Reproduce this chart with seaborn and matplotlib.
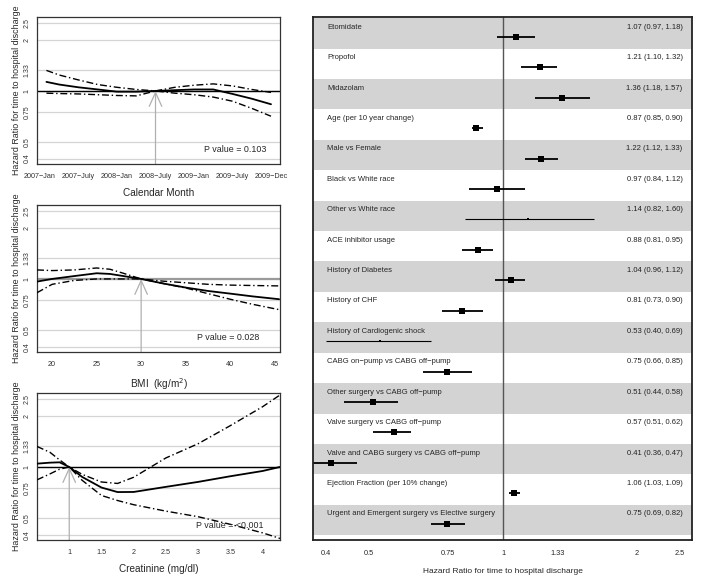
import numpy as np
import pandas as pd
import matplotlib
matplotlib.use("Agg")
import matplotlib.pyplot as plt
import matplotlib.transforms as mtransforms
import seaborn as sns

# spline curves (hazard ratio, log scale)
months = [1, 3, 6, 9, 12, 15, 18, 21, 24, 27, 30, 33, 36]
month_hr = [1.13, 1.09, 1.05, 1.02, 0.99, 0.99, 1.0, 1.01, 1.02, 1.02, 0.96, 0.90, 0.835]
month_hi = [1.32, 1.24, 1.16, 1.09, 1.05, 1.02, 1.0, 1.05, 1.08, 1.10, 1.07, 1.02, 0.98]
month_lo = [0.97, 0.965, 0.96, 0.95, 0.94, 0.935, 1.0, 0.97, 0.95, 0.92, 0.87, 0.79, 0.71]
month_ticks = [0, 6, 12, 18, 24, 30, 36]
month_labels = ["2007\u2212Jan", "2007\u2212July", "2008\u2212Jan", "2008\u2212July",
                "2009\u2212Jan", "2009\u2212July", "2009\u2212Dec"]

bmi = [18.3, 20, 22.5, 25, 26.5, 28, 30, 32.5, 35, 37.5, 40, 42.5, 45.5]
bmi_hr = [0.965, 1.0, 1.04, 1.08, 1.07, 1.04, 1.0, 0.94, 0.89, 0.85, 0.82, 0.79, 0.76]
bmi_hi = [1.13, 1.12, 1.13, 1.16, 1.14, 1.08, 1.0, 0.97, 0.95, 0.93, 0.92, 0.915, 0.91]
bmi_lo = [0.83, 0.93, 0.98, 1.0, 1.0, 1.0, 1.0, 0.94, 0.885, 0.82, 0.76, 0.71, 0.66]

creat = [0.5, 0.7, 0.85, 1.0, 1.2, 1.5, 1.75, 2.0, 2.5, 3.0, 3.5, 4.0, 4.27]
creat_hr = [1.046, 1.06, 1.065, 1.0, 0.874, 0.757, 0.712, 0.713, 0.764, 0.817, 0.882, 0.947, 1.0]
creat_hi = [0.84, 0.91, 0.97, 1.0, 0.905, 0.816, 0.80, 0.87, 1.13, 1.37, 1.75, 2.26, 2.65]
creat_lo = [1.32, 1.22, 1.10, 1.0, 0.835, 0.68, 0.635, 0.60, 0.55, 0.51, 0.46, 0.41, 0.38]

hr_ticks = [0.4, 0.5, 0.75, 1, 1.33, 2, 2.5]
hr_labels = ["0.4", "0.5", "0.75", "1", "1.33", "2", "2.5"]

# forest plot
terms = ["Etomidate", "Propofol", "Midazolam", "Age (per 10 year change)", "Male vs Female",
         "Black vs White race", "Other vs White race", "ACE inhibitor usage",
         "History of Diabetes", "History of CHF", "History of Cardiogenic shock",
         "CABG on\u2212pump vs CABG off\u2212pump", "Other surgery vs CABG off\u2212pump",
         "Valve surgery vs CABG off\u2212pump", "Valve and CABG surgery vs CABG off\u2212pump",
         "Ejection Fraction (per 10% change)", "Urgent and Emergent surgery vs Elective surgery"]
est = [1.07, 1.21, 1.36, 0.87, 1.22, 0.97, 1.14, 0.88, 1.04, 0.81, 0.53, 0.75, 0.51, 0.57, 0.41, 1.06, 0.75]
lo = [0.97, 1.10, 1.18, 0.85, 1.12, 0.84, 0.82, 0.81, 0.96, 0.73, 0.40, 0.66, 0.44, 0.51, 0.36, 1.03, 0.69]
hi = [1.18, 1.32, 1.57, 0.90, 1.33, 1.12, 1.60, 0.95, 1.12, 0.90, 0.69, 0.85, 0.58, 0.62, 0.47, 1.09, 0.82]
small = [False] * 6 + [True] + [False] * 3 + [True] + [False] * 6

sns.set_style("white")
plt.rcParams['font.family'] = ['Liberation Sans', 'DejaVu Sans']

fig = plt.figure(figsize=(7.01, 5.78), dpi=100)
ylab = "Hazard Ratio for time to hospital discharge"


def spline_panel(rect, x, hr, hi_, lo_, xlim, ref, xlabel, pval, ptext_x, refline_color="black"):
    ax = fig.add_axes(rect)
    ax.set_yscale("log")
    ax.set_ylim(0.372, 2.72)
    ax.set_xlim(*xlim)
    for t in hr_ticks:
        ax.axhline(t, color="#d4d4d4", lw=0.9, zorder=0)
    ax.axhline(1, color=refline_color, lw=1.0 if refline_color == "black" else 1.6, zorder=1)
    # reference value arrow
    ax.annotate("", xy=(ref, 1.0), xytext=(ref, 0.372),
                arrowprops=dict(arrowstyle="->,head_length=1.0,head_width=0.45",
                                color="#b0b0b0", lw=0.9, shrinkA=0, shrinkB=0), zorder=2)
    sns.lineplot(x=x, y=hr, ax=ax, color="black", lw=1.3, sort=False, zorder=3)
    sns.lineplot(x=x, y=hi_, ax=ax, color="black", lw=1.0, sort=False, zorder=3, linestyle=(0, (5, 2, 1, 2)))
    sns.lineplot(x=x, y=lo_, ax=ax, color="black", lw=1.0, sort=False, zorder=3, linestyle=(0, (5, 2, 1, 2)))
    ax.set_yticks(hr_ticks)
    ax.set_yticklabels(hr_labels, rotation=90, va="center", fontsize=5)
    ax.yaxis.set_minor_locator(matplotlib.ticker.NullLocator())
    ax.tick_params(axis="both", direction="out", length=2.5, width=0.6, pad=2, colors="#333333")
    ax.tick_params(axis="x", labelsize=5.2, pad=4)
    ax.set_xlabel(xlabel, fontsize=7.2, labelpad=6)
    ax.set_ylabel(ylab, fontsize=6.4, labelpad=2)
    ax.text(ptext_x, 0.45, pval, fontsize=6.4, ha="left", va="center")
    for s in ax.spines.values():
        s.set_color("#333333")
        s.set_linewidth(0.9)
    return ax


ax1 = spline_panel([0.0528, 0.7163, 0.3466, 0.2543], months, month_hr, month_hi, month_lo,
                   (-0.47, 37.4), 18, "Calendar Month", "P value = 0.103", 25.5)
ax1.set_xticks(month_ticks)
ax1.set_xticklabels(month_labels)

ax2 = spline_panel([0.0528, 0.391, 0.3466, 0.2543], bmi, bmi_hr, bmi_hi, bmi_lo,
                   (18.3, 45.6), 30, "BMI  (kg/m$^2$)", "P value = 0.028", 36.3, refline_color="#9a9a9a")
ax2.set_xticks([20, 25, 30, 35, 40, 45])

ax3 = spline_panel([0.0528, 0.0657, 0.3466, 0.2543], creat, creat_hr, creat_hi, creat_lo,
                   (0.5, 4.27), 1.0, "Creatinine (mg/dl)", "P value = <0.001", 2.97)
ax3.set_xticks([1, 1.5, 2, 2.5, 3, 3.5, 4])
ax3.set_xticklabels(["1", "1.5", "2", "2.5", "3", "3.5", "4"])

# forest plot
ax = fig.add_axes([0.4465, 0.0657, 0.5407, 0.9048])
ax.set_xscale("log")
ax.set_xlim(0.374, 2.66)
n = len(terms)
ax.set_ylim(n + 0.16, -0.035)
for i in range(n):
    if i % 2 == 0:
        ax.axhspan(i, i + 1, color="#d3d3d3", lw=0, zorder=0)
ax.axvline(1, color="#555555", lw=1.0, zorder=1)
trans = mtransforms.blended_transform_factory(ax.transAxes, ax.transData)
df = pd.DataFrame({"term": terms, "est": est, "lo": lo, "hi": hi, "small": small})
df["ypos"] = np.arange(n) + 0.62
for i, r in df.iterrows():
    ax.plot([r["lo"], r["hi"]], [r["ypos"], r["ypos"]], color="black",
            lw=0.8 if r["small"] else 1.3, zorder=2, solid_capstyle="butt")
    ax.text(0.037, i + 0.3, r["term"], transform=trans, fontsize=5.5, va="center", ha="left")
    ax.text(0.975, i + 0.3, f"{r['est']:.2f} ({r['lo']:.2f}, {r['hi']:.2f})",
            transform=trans, fontsize=5.5, va="center", ha="right", color="#222222")
big = df[~df["small"]]
tiny = df[df["small"]]
sns.scatterplot(data=big, x="est", y="ypos", ax=ax, marker="s", s=20, color="black",
                edgecolor="black", linewidth=0, zorder=3, legend=False)
sns.scatterplot(data=tiny, x="est", y="ypos", ax=ax, marker="s", s=3, color="black",
                edgecolor="black", linewidth=0, zorder=3, legend=False)
ax.set_xticks(hr_ticks)
ax.set_xticklabels(hr_labels)
ax.xaxis.set_minor_locator(matplotlib.ticker.NullLocator())
ax.set_yticks([])
ax.tick_params(axis="x", length=0, labelsize=5.3, pad=7)
ax.set_xlabel("Hazard Ratio for time to hospital discharge", fontsize=6.0, labelpad=8)
ax.set_ylabel("")
for s in ax.spines.values():
    s.set_color("#222222")
    s.set_linewidth(1.3)

fig.savefig("out.png", dpi=100)
